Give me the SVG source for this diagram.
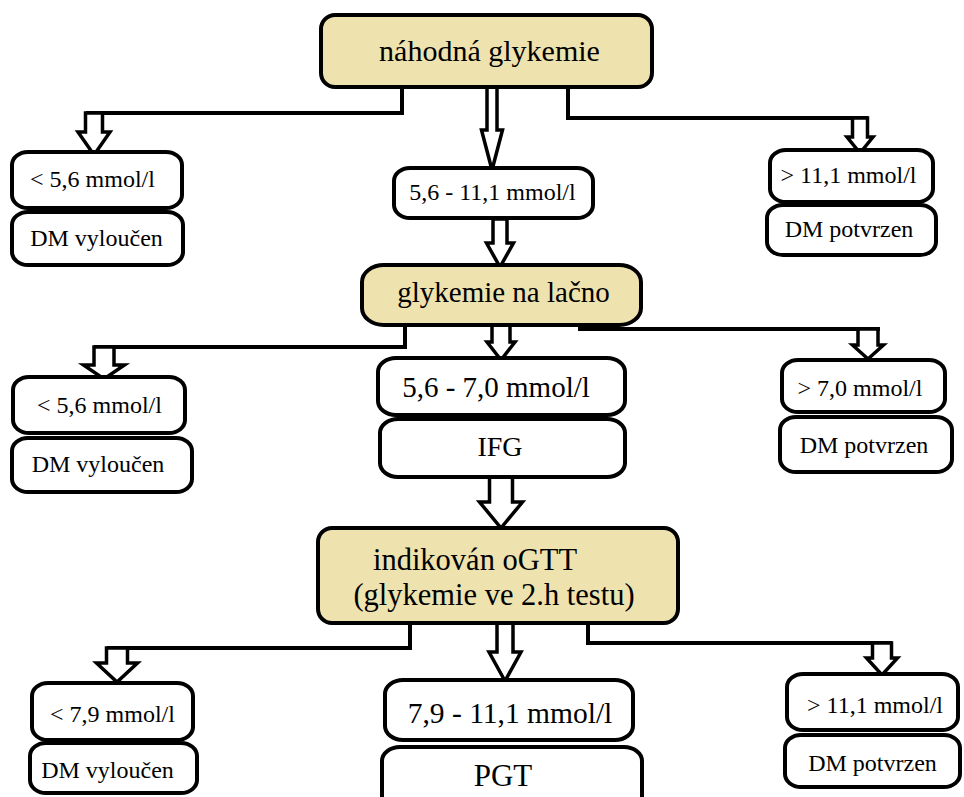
<svg xmlns="http://www.w3.org/2000/svg" width="964" height="797" viewBox="0 0 964 797">
<style>
.tan{fill:#EEE2AE;stroke:#000;stroke-width:4}
.box{fill:#fff;stroke:#000;stroke-width:4}
.con{fill:none;stroke:#000;stroke-width:4;stroke-linejoin:miter}
.arr{fill:#fff;stroke:#000;stroke-width:3.5;stroke-linejoin:miter}
text{font-family:"Liberation Serif","Times New Roman",serif;fill:#000;text-anchor:middle}
.s{font-size:24px}
.l{font-size:29px}
</style>
<rect width="964" height="797" fill="#fff"/>
<g id="connectors">
<path class="con" d="M402 87V113H86"/>
<path class="con" d="M568 87V118H868"/>
<path class="con" d="M405 325V347H94"/>
<path class="con" d="M578 329H880"/>
<path d="M578 327H616" stroke="#000" stroke-width="7"/>
<path class="con" d="M410 623V648H107"/>
<path class="con" d="M588 623V643H892"/>
<polygon class="arr" points="85.5,113 102.5,113 102.5,132 110,132 94,155 78,132 85.5,132"/>
<polygon class="arr" points="487,87 497,87 497,130 502.5,130 492,170 481.5,130 487,130"/>
<polygon class="arr" points="852.5,118 867.5,118 867.5,137 873,137 860,153 847,137 852.5,137"/>
<polygon class="arr" points="493,219 507,219 507,243 513.5,243 500,267 486.5,243 493,243"/>
<polygon class="arr" points="94,347 114,347 114,365 124.5,365 104,379 83.5,365 94,365"/>
<polygon class="arr" points="492,325 510,325 510,342 515,342 501,360 487,342 492,342"/>
<polygon class="arr" points="858,329 878,329 878,345 883.5,345 868,359 852.5,345 858,345"/>
<polygon class="arr" points="489.5,477 512.5,477 512.5,502 522.5,502 501,528 479.5,502 489.5,502"/>
<polygon class="arr" points="106.5,648 127.5,648 127.5,663 137.5,663 117,682 96.5,663 106.5,663"/>
<polygon class="arr" points="497,623 513,623 513,652 521,652 505,681 489,652 497,652"/>
<polygon class="arr" points="872.5,643 891.5,643 891.5,658 897.5,658 882,675 866.5,658 872.5,658"/>
</g>
<g id="n-nahodna">
<rect class="tan" x="321" y="15" width="331" height="72" rx="14"/>
<text class="l" x="489.5" y="61" style="font-size:30px">náhodná glykemie</text>
</g>
<g id="n-r1-low">
<rect class="box" x="12" y="152" width="170" height="56" rx="16" ry="13"/>
<text class="s" x="92.5" y="187">&lt; 5,6 mmol/l</text>
</g>
<g id="n-r1-low-dm">
<rect class="box" x="12" y="212" width="171" height="53" rx="16" ry="13"/>
<text class="s" x="96.5" y="246">DM vyloučen</text>
</g>
<g id="n-r1-mid">
<rect class="box" x="394" y="168" width="199" height="50" rx="16" ry="13"/>
<text class="s" x="492.5" y="200">5,6 - 11,1 mmol/l</text>
</g>
<g id="n-r1-high">
<rect class="box" x="770" y="150" width="163" height="52" rx="16" ry="13"/>
<text class="s" x="848.5" y="183">&gt; 11,1 mmol/l</text>
</g>
<g id="n-r1-high-dm">
<rect class="box" x="767" y="205" width="169" height="50" rx="16" ry="13"/>
<text class="s" x="849" y="237">DM potvrzen</text>
</g>
<g id="n-lacno">
<rect class="tan" x="362" y="265" width="279" height="60" rx="22" ry="17"/>
<text class="l" x="503.5" y="302">glykemie na lačno</text>
</g>
<g id="n-r2-mid">
<rect class="box" x="378" y="358" width="247" height="57" rx="18" ry="14"/>
<text class="l" x="496" y="397">5,6 - 7,0 mmol/l</text>
</g>
<g id="n-ifg">
<rect class="box" x="380" y="419" width="245" height="58" rx="18" ry="14"/>
<text class="l" x="500" y="456" style="font-size:28px">IFG</text>
</g>
<g id="n-r2-low">
<rect class="box" x="13" y="377" width="172" height="56" rx="16" ry="13"/>
<text class="s" x="99.5" y="413">&lt; 5,6 mmol/l</text>
</g>
<g id="n-r2-low-dm">
<rect class="box" x="12" y="438" width="180" height="54" rx="16" ry="13"/>
<text class="s" x="98" y="472">DM vyloučen</text>
</g>
<g id="n-r2-high">
<rect class="box" x="782" y="360" width="163" height="52" rx="16" ry="13"/>
<text class="s" x="860" y="396">&gt; 7,0 mmol/l</text>
</g>
<g id="n-r2-high-dm">
<rect class="box" x="780" y="417" width="172" height="55" rx="16" ry="13"/>
<text class="s" x="864" y="453">DM potvrzen</text>
</g>
<g id="n-ogtt">
<rect class="tan" x="318" y="528" width="360" height="95" rx="14"/>
<text class="l" x="475" y="570" style="font-size:30.5px">indikován oGTT</text>
<text class="l" x="494" y="605" style="font-size:30.5px">(glykemie ve 2.h testu)</text>
</g>
<g id="n-r3-low">
<rect class="box" x="32" y="683" width="161" height="57" rx="16" ry="13"/>
<text class="s" x="112.5" y="722">&lt; 7,9 mmol/l</text>
</g>
<g id="n-r3-low-dm">
<rect class="box" x="30" y="743" width="167" height="50" rx="16" ry="13"/>
<text class="s" x="107.5" y="778">DM vyloučen</text>
</g>
<g id="n-r3-mid">
<rect class="box" x="385" y="680" width="248" height="60" rx="18" ry="14"/>
<text class="l" x="510" y="723" style="font-size:29.5px">7,9 - 11,1 mmol/l</text>
</g>
<g id="n-pgt">
<rect class="box" x="382" y="747" width="260" height="70" rx="18" ry="14"/>
<text class="l" x="503" y="786" style="font-size:31px">PGT</text>
</g>
<g id="n-r3-high">
<rect class="box" x="787" y="674" width="171" height="56" rx="16" ry="13"/>
<text class="s" x="875" y="713">&gt; 11,1 mmol/l</text>
</g>
<g id="n-r3-high-dm">
<rect class="box" x="785" y="735" width="175" height="52" rx="16" ry="13"/>
<text class="s" x="872.5" y="771">DM potvrzen</text>
</g>
</svg>
